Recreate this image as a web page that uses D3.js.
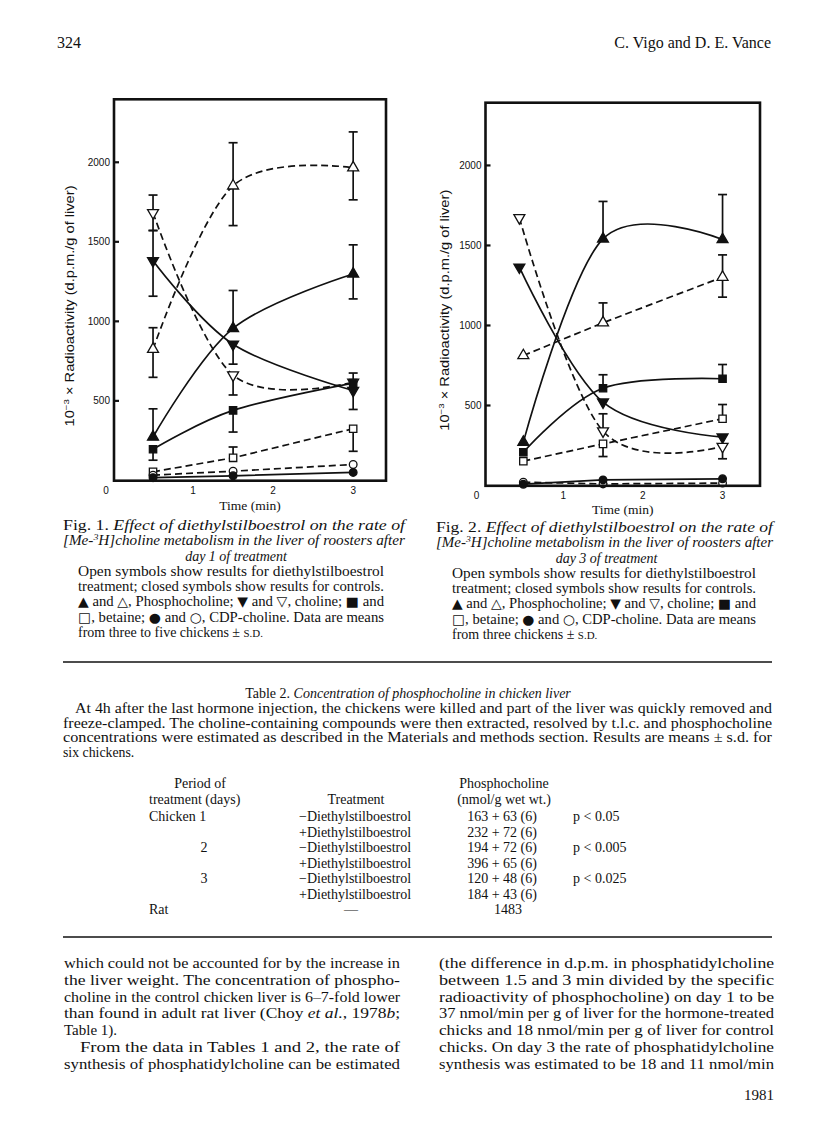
<!DOCTYPE html>
<html><head><meta charset="utf-8">
<script src="https://cdn.jsdelivr.net/npm/d3@7"></script>
<style>
body{margin:0;background:#fff}
svg{display:block}
</style>
</head><body>
<svg id="page" width="816" height="1136"></svg>
<script>
// ---------------- DATA ----------------
const times = [0.5, 1.5, 3];
const timesCholine2 = [0.45, 1.5, 3];
const xTickValues = [0, 1, 2, 3];
const yTickValues = [500, 1000, 1500, 2000];

// Fig. 1 (day 1) — values and error-bar ends (null = no bar drawn)
const f1PcOpen = [825, 1852, 1966];
const f1PcOpenHi = [960, 2123, 2191];
const f1PcOpenLo = [648, 1602, 1764];
const f1PcClosed = [273, 956, 1298];
const f1PcClosedHi = [450, 1194, 1481];
const f1PcClosedLo = [null, null, 1141];
const f1ChOpen = [1683, 662, 617];
const f1ChOpenHi = [1794, null, null];
const f1ChOpenLo = [1571, 537, null];
const f1ChClosed = [1381, 856, 565];
const f1ChClosedHi = [1571, null, null];
const f1ChClosedLo = [1158, 731, 446];
const f1BeClosed = [196, 440, 612];
const f1BeClosedHi = [null, null, 675];
const f1BeClosedLo = [127, 304, null];
const f1BeOpen = [54, 142, 325];
const f1BeOpenHi = [null, 210, null];
const f1BeOpenLo = [null, null, 183];
const f1CdpOpen = [33, 58, 100];
const f1CdpClosed = [17, 29, 50];

// Fig. 2 (day 3)
const f2PcClosed = [271, 1541, 1537];
const f2PcClosedHi = [null, 1775, 1818];
const f2PcOpen = [812, 1017, 1302];
const f2PcOpenHi = [null, 1141, 1441];
const f2PcOpenLo = [null, null, 1177];
const f2BeClosed = [208, 608, 667];
const f2BeClosedHi = [null, 692, 756];
const f2BeOpen = [152, 260, 417];
const f2BeOpenHi = [null, null, 506];
const f2BeOpenLo = [null, 181, null];
const f2ChClosed = [1364, 521, 302];
const f2ChOpen = [1673, 340, 244];
const f2ChOpenHi = [null, 448, null];
const f2ChOpenLo = [null, null, 167];
const f2CdpClosed = [8, 35, 42];
const f2CdpOpen = [21, 10, 15];

// Table 2
const tablePeriods = ["Chicken 1", "", "2", "", "3", "", "Rat"];
const tableTreatments = ["\u2212Diethylstilboestrol", "+Diethylstilboestrol", "\u2212Diethylstilboestrol", "+Diethylstilboestrol", "\u2212Diethylstilboestrol", "+Diethylstilboestrol", "\u2014"];
const tableMeans = [163, 232, 194, 396, 120, 184, 1483];
const tableSD = [63, 72, 72, 65, 48, 43, null];
const tableN = [6, 6, 6, 6, 6, 6, null];
const tableP = ["p < 0.05", "", "p < 0.005", "", "p < 0.025", "", ""];

// ---------------- DRAW ----------------
const svg = d3.select("#page");
const SERIF = "'Liberation Serif','Times New Roman',serif";
const SANS = "'Liberation Sans',Arial,sans-serif";

function mk(t, v, hi, lo, shape, open, dash, curve) {
  return {t, v, hi: hi || [], lo: lo || [], shape, open, dash, curve};
}

const panels = [
  {box: {l: 114, t: 99.3, r: 386, b: 480.7}, x0: 113, xMax: 3.41, yMax: 2396,
   ylabX: 70, timeY: 510,
   series: [
     mk(times, f1PcOpen, f1PcOpenHi, f1PcOpenLo, "up", true, true, true),
     mk(times, f1PcClosed, f1PcClosedHi, f1PcClosedLo, "up", false, false, true),
     mk(times, f1ChOpen, f1ChOpenHi, f1ChOpenLo, "down", true, true, true),
     mk(times, f1ChClosed, f1ChClosedHi, f1ChClosedLo, "down", false, false, true),
     mk(times, f1BeClosed, f1BeClosedHi, f1BeClosedLo, "square", false, false, true),
     mk(times, f1BeOpen, f1BeOpenHi, f1BeOpenLo, "square", true, true, false),
     mk(times, f1CdpOpen, null, null, "circle", true, true, false),
     mk(times, f1CdpClosed, null, null, "circle", false, false, false)
   ]},
  {box: {l: 485.5, t: 102.7, r: 760, b: 485.8}, x0: 483.5, xMax: 3.47, yMax: 2392,
   ylabX: 445, timeY: 514,
   series: [
     mk(times, f2PcClosed, f2PcClosedHi, null, "up", false, false, true),
     mk(times, f2PcOpen, f2PcOpenHi, f2PcOpenLo, "up", true, true, false),
     mk(times, f2BeClosed, f2BeClosedHi, null, "square", false, false, true),
     mk(times, f2BeOpen, f2BeOpenHi, f2BeOpenLo, "square", true, true, false),
     mk(timesCholine2, f2ChClosed, null, null, "down", false, false, true),
     mk(timesCholine2, f2ChOpen, f2ChOpenHi, f2ChOpenLo, "down", true, true, true),
     mk(times, f2CdpOpen, null, null, "circle", true, true, false),
     mk(times, f2CdpClosed, null, null, "circle", false, false, false)
   ]}
];

const symType = {up: d3.symbolTriangle, down: d3.symbolTriangle, square: d3.symbolSquare, circle: d3.symbolCircle};
const symSize = {up: 52, down: 52, square: 54, circle: 46};

panels.forEach(p => {
  const g = svg.append("g");
  const x = d3.scaleLinear().domain([0, p.xMax]).range([p.x0, p.box.r]);
  const y = d3.scaleLinear().domain([0, p.yMax]).range([p.box.b - 0.3, p.box.t]);

  // lines
  p.series.forEach(s => {
    const pts = s.v.map((v, i) => [s.t[i], v]);
    const line = d3.line().x(d => x(d[0])).y(d => y(d[1]))
      .curve(s.curve ? d3.curveCardinal.tension(0) : d3.curveLinear);
    g.append("path").attr("d", line(pts)).attr("fill", "none")
      .attr("stroke", "#111").attr("stroke-width", 1.7)
      .attr("stroke-dasharray", s.dash ? "7,4" : null);
  });
  // error bars
  p.series.forEach(s => {
    s.v.forEach((v, i) => {
      [s.hi[i], s.lo[i]].forEach(e => {
        if (e == null) return;
        const cx = x(s.t[i]);
        g.append("line").attr("x1", cx).attr("x2", cx).attr("y1", y(v)).attr("y2", y(e))
          .attr("stroke", "#111").attr("stroke-width", 1.7);
        g.append("line").attr("x1", cx - 4.5).attr("x2", cx + 4.5).attr("y1", y(e)).attr("y2", y(e))
          .attr("stroke", "#111").attr("stroke-width", 1.7);
      });
    });
  });
  // symbols
  p.series.forEach(s => {
    const sym = d3.symbol().type(symType[s.shape]).size(symSize[s.shape]);
    s.v.forEach((v, i) => {
      g.append("path").attr("d", sym())
        .attr("transform", `translate(${x(s.t[i])},${y(v)})` + (s.shape === "down" ? " rotate(180)" : ""))
        .attr("fill", s.open ? "#fff" : "#111")
        .attr("stroke", "#111").attr("stroke-width", 1.3);
    });
  });
  // frame
  g.append("rect").attr("x", p.box.l).attr("y", p.box.t)
    .attr("width", p.box.r - p.box.l).attr("height", p.box.b - p.box.t)
    .attr("fill", "none").attr("stroke", "#111").attr("stroke-width", 2.6);
  // y ticks
  yTickValues.forEach(tv => {
    g.append("line").attr("x1", p.box.l).attr("x2", p.box.l + 5).attr("y1", y(tv)).attr("y2", y(tv))
      .attr("stroke", "#111").attr("stroke-width", 2.2);
    g.append("text").attr("x", p.box.l - 4).attr("y", y(tv) + 3.6)
      .attr("text-anchor", "end").attr("font-family", SANS).attr("font-size", 10)
      .attr("fill", "#111").text(tv);
  });
  // x tick labels
  xTickValues.forEach(tv => {
    g.append("text").attr("x", x(tv) + (tv === 0 ? -7 : 0)).attr("y", p.box.b + 13)
      .attr("text-anchor", "middle").attr("font-family", SANS).attr("font-size", 10)
      .attr("fill", "#111").text(tv);
  });
  // axis titles
  g.append("text").attr("x", (p.box.l + p.box.r) / 2).attr("y", p.timeY)
    .attr("text-anchor", "middle").attr("font-family", SERIF).attr("font-size", 13.5)
    .attr("fill", "#111").text("Time (min)");
  const yl = g.append("text")
    .attr("transform", `translate(${p.ylabX + 4},${(p.box.t + p.box.b) / 2 + 16}) rotate(-90)`)
    .attr("text-anchor", "middle").attr("font-family", SANS).attr("font-size", 12)
    .attr("fill", "#111").attr("textLength", 241).attr("lengthAdjust", "spacingAndGlyphs");
  yl.append("tspan").text("10");
  yl.append("tspan").attr("font-size", 8).attr("dy", -5).text("\u22123");
  yl.append("tspan").attr("dy", 5).text(" \u00d7 Radioactivity (d.p.m./g of liver)");
});

// ---------------- TEXT ----------------
// segs: array of [string, style] ; style: "" | "i" | "sup" | "sc" | "sym"
function line(x, yb, segs, o) {
  o = o || {};
  const fs = o.size || 14;
  const t = svg.append("text").attr("x", x).attr("y", yb)
    .attr("font-family", SERIF).attr("font-size", fs).attr("fill", "#111")
    .attr("text-anchor", o.anchor || "start");
  if (o.width) t.attr("textLength", o.width).attr("lengthAdjust", o.adj || "spacingAndGlyphs");
  segs.forEach(([s, st]) => {
    const ts = t.append("tspan").text(s);
    if (st === "i") ts.attr("font-style", "italic");
    if (st === "sup") ts.attr("font-style", "italic").attr("font-size", fs * 0.65).attr("baseline-shift", "super");
    if (st === "sc") ts.attr("font-size", fs * 0.78);
    if (st === "sym") ts.attr("font-family", "'DejaVu Sans',sans-serif").attr("font-size", fs * 0.95);
  });
  return t;
}
// split a string so that symbol glyphs get their own style
function symSegs(s) {
  const out = [];
  s.split(/([\u25A0-\u25CF])/).forEach(part => {
    if (!part) return;
    out.push([part, /^[\u25A0-\u25CF]$/.test(part) ? "sym" : ""]);
  });
  return out;
}

// header
line(57, 48, [["324", ""]], {size: 16});
line(771, 48, [["C. Vigo and D. E. Vance", ""]], {size: 16, anchor: "end"});

// captions
function caption(x0, x1, bx0, bx1, y0, num, day, lastLine) {
  const ls = 15.25;
  line(x0, y0, [["Fig. " + num + ". ", ""], ["Effect of diethylstilboestrol on the rate of", "i"]], {width: x1 - x0});
  line(x0, y0 + ls, [["[Me-", "i"], ["3", "sup"], ["H]choline metabolism in the liver of roosters after", "i"]], {width: x1 - x0});
  line((x0 + x1) / 2 + 2, y0 + 2 * ls, [["day " + day + " of treatment", "i"]], {anchor: "middle"});
  const body = [
    "Open symbols show results for diethylstilboestrol",
    "treatment; closed symbols show results for controls.",
    "\u25B2 and \u25B3, Phosphocholine; \u25BC and \u25BD, choline; \u25A0 and",
    "\u25A1, betaine; \u25CF and \u25CB, CDP-choline. Data are means"
  ];
  body.forEach((b, i) => line(bx0, y0 + (3 + i) * ls, symSegs(b), {width: bx1 - bx0}));
  line(bx0, y0 + 7 * ls, [[lastLine + " \u00b1 ", ""], ["S.D.", "sc"]]);
}
caption(63, 405, 78, 384, 530, 1, 1, "from three to five chickens");
caption(436, 773, 452, 756, 532, 2, 3, "from three chickens");

// rules
svg.append("line").attr("x1", 63).attr("x2", 772).attr("y1", 662).attr("y2", 662).attr("stroke", "#111").attr("stroke-width", 1.6);
svg.append("line").attr("x1", 63).attr("x2", 772).attr("y1", 937).attr("y2", 937).attr("stroke", "#111").attr("stroke-width", 1.6);

// table title + legend
line(408, 698, [["Table 2.  ", ""], ["Concentration of phosphocholine in chicken liver", "i"]], {anchor: "middle"});
const tpara = [
  "At 4h after the last hormone injection, the chickens were killed and part of the liver was quickly removed and",
  "freeze-clamped. The choline-containing compounds were then extracted, resolved by t.l.c. and phosphocholine",
  "concentrations were estimated as described in the Materials and methods section. Results are means \u00b1 s.d. for"
];
const tparaY = 713, tparaLS = 14.6;
tpara.forEach((s, i) => {
  const x0 = i === 0 ? 75 : 63;
  line(x0, tparaY + i * tparaLS, [[s, ""]], {width: 772 - x0, size: 13.8});
});
line(63, tparaY + 3 * tparaLS, [["six chickens.", ""]], {size: 13.8});

// table header
line(200, 787.5, [["Period of", ""]], {anchor: "middle"});
line(149, 803.5, [["treatment (days)", ""]]);
line(356, 803.5, [["Treatment", ""]], {anchor: "middle"});
line(504, 787.5, [["Phosphocholine", ""]], {anchor: "middle"});
line(504, 803.5, [["(nmol/g wet wt.)", ""]], {anchor: "middle"});
// table rows
tableMeans.forEach((m, i) => {
  const yb = 821 + i * 15.5;
  const per = tablePeriods[i];
  if (per) {
    if (/^\d$/.test(per)) line(204, yb, [[per, ""]], {anchor: "middle"});
    else line(149, yb, [[per, ""]]);
  }
  const tr = tableTreatments[i];
  if (tr === "\u2014") line(351, yb, [[tr, ""]], {anchor: "middle"});
  else line(299, yb, [[tr, ""]]);
  const val = tableSD[i] == null ? String(m) : `${m} + ${tableSD[i]} (${tableN[i]})`;
  line(tableSD[i] == null ? 508 : 502, yb, [[val, ""]], {anchor: "middle"});
  if (tableP[i]) line(573, yb, [[tableP[i], ""]]);
});

// body text
const bodyLS = 16.8, bodyY = 968;
const leftCol = [
  [[["which could not be accounted for by the increase in", ""]], 64, true],
  [[["the liver weight. The concentration of phospho-", ""]], 64, true],
  [[["choline in the control chicken liver is 6\u20137-fold lower", ""]], 64, true],
  [[["than found in adult rat liver (Choy ", ""], ["et al.", "i"], [", 1978", ""], ["b", "i"], [";", ""]], 64, true],
  [[["Table 1).", ""]], 64, false],
  [[["From the data in Tables 1 and 2, the rate of", ""]], 80, true],
  [[["synthesis of phosphatidylcholine can be estimated", ""]], 64, true]
];
leftCol.forEach(([segs, x0, just], i) => line(x0, bodyY + i * bodyLS, segs, {size: 15, width: just ? 400 - x0 : null}));
const rightCol = [
  "(the difference in d.p.m. in phosphatidylcholine",
  "between 1.5 and 3 min divided by the specific",
  "radioactivity of phosphocholine) on day 1 to be",
  "37 nmol/min per g of liver for the hormone-treated",
  "chicks and 18 nmol/min per g of liver for control",
  "chicks. On day 3 the rate of phosphatidylcholine",
  "synthesis was estimated to be 18 and 11 nmol/min"
];
rightCol.forEach((s, i) => line(439, bodyY + i * bodyLS, [[s, ""]], {size: 15, width: 774 - 439}));
line(774, 1100, [["1981", ""]], {size: 15, anchor: "end"});
</script>
</body></html>
